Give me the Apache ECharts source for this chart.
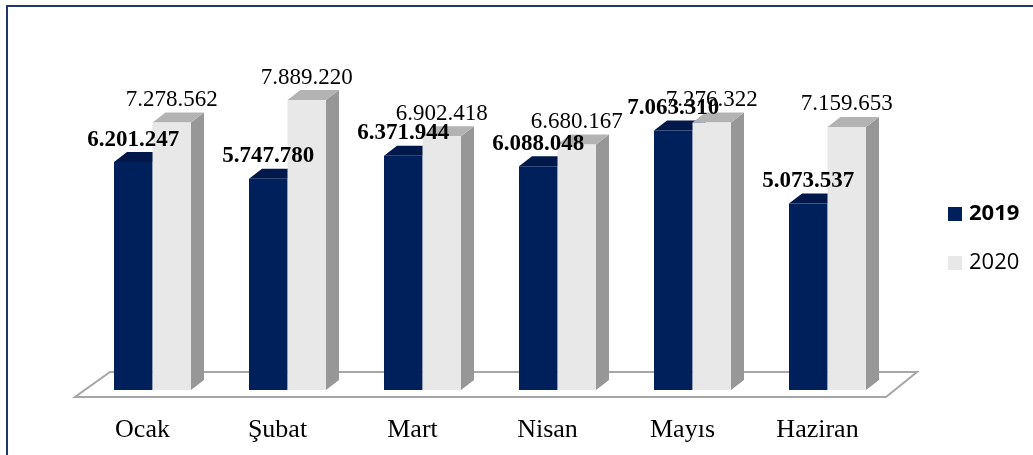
<!DOCTYPE html>
<html><head><meta charset="utf-8">
<script src="https://cdn.jsdelivr.net/npm/echarts@6/dist/echarts.min.js"></script>
<style>html,body{margin:0;padding:0;background:#fff}#c{width:1033px;height:455px}</style>
</head><body><div id="c"></div>
<script>
const categories = ['Ocak', 'Şubat', 'Mart', 'Nisan', 'Mayıs', 'Haziran'];
const seriesNames = ['2019', '2020'];
const values2019 = [6201247, 5747780, 6371944, 6088048, 7063310, 5073537];
const values2020 = [7278562, 7889220, 6902418, 6680167, 7276322, 7159653];

const BAR_W = 38.5, DX = 13, DY = -10;
const styles = [
  {front: '#00205b', top: '#00184a', side: '#001640', bold: true},
  {front: '#e8e8e8', top: '#b3b3b3', side: '#979797', bold: false}
];
function fmt(v) { return String(v).replace(/\B(?=(\d{3})+(?!\d))/g, '.'); }

function barX(si, cx) { return si === 0 ? cx - BAR_W : cx; }

function makeRender(si) {
  const st = styles[si];
  return function (params, api) {
    const p = api.coord([api.value(0), api.value(1)]);
    const base = api.coord([api.value(0), 0]);
    const x0 = barX(si, p[0]);
    const x1 = x0 + BAR_W;
    const yt = p[1], yb = base[1];
    return {
      type: 'group',
      children: [
        {type: 'polygon', shape: {points: [[x1, yb], [x1 + DX, yb + DY], [x1 + DX, yt + DY], [x1, yt]]}, style: {fill: st.side}},
        {type: 'polygon', shape: {points: [[x0, yt], [x1, yt], [x1 + DX, yt + DY], [x0 + DX, yt + DY]]}, style: {fill: st.top}},
        {type: 'rect', shape: {x: x0, y: yt, width: BAR_W, height: yb - yt}, style: {fill: st.front}}
      ]
    };
  };
}

function makeLabelRender(si) {
  const st = styles[si];
  return function (params, api) {
    const p = api.coord([api.value(0), api.value(1)]);
    const x0 = barX(si, p[0]);
    return {
      type: 'text', style: {
        text: fmt(api.value(1)), x: x0 + BAR_W / 2, y: p[1] - 11,
        align: 'center', verticalAlign: 'bottom',
        font: (st.bold ? 'bold ' : '') + '23px "Liberation Serif"', fill: '#000'
      }
    };
  };
}

function floorRender(params, api) {
  const cs = params.coordSys;
  const x0 = cs.x, x1 = cs.x + cs.width, y0 = cs.y + cs.height;
  return {
    type: 'polygon',
    shape: {points: [[x0 - 10, y0 + 7], [x1 - 9, y0 + 7], [x1 + 22, y0 - 18], [x0 + 25, y0 - 18]]},
    style: {fill: '#fff', stroke: '#a6a6a6', lineWidth: 2}
  };
}

const d2019 = values2019.map((v, i) => [i, v]);
const d2020 = values2020.map((v, i) => [i, v]);

const chart = echarts.init(document.getElementById('c'));
chart.setOption({
  animation: false,
  backgroundColor: '#fff',
  graphic: [{type: 'rect', shape: {x: 7, y: 6, width: 1100, height: 500}, style: {fill: 'none', stroke: '#1f3864', lineWidth: 2}, z: 100}],
  grid: {left: 85, right: 138, top: 96, bottom: 65},
  xAxis: {
    type: 'category', data: categories,
    axisLine: {show: false}, axisTick: {show: false},
    axisLabel: {margin: 27, padding: [0, 20, 0, 0], fontFamily: 'Liberation Serif', fontSize: 26, color: '#000'}
  },
  yAxis: {type: 'value', min: 0, max: 8000000, show: false, splitLine: {show: false}},
  legend: {
    data: seriesNames, orient: 'vertical', left: 943, top: 198,
    itemWidth: 14, itemHeight: 14, itemGap: 27, icon: 'rect',
    formatter: n => n === '2019' ? '{b|' + n + '}' : '{n|' + n + '}',
    textStyle: {
      color: '#000', fontFamily: 'Open Sans', fontSize: 22, lineHeight: 22,
      rich: {b: {fontWeight: 'bold', fontSize: 22, fontFamily: 'Open Sans', padding: [0, 0, 0, 2]},
             n: {fontWeight: 'normal', fontSize: 22, fontFamily: 'Open Sans', padding: [0, 0, 0, 2]}}
    }
  },
  series: [
    {type: 'custom', name: 'floor', silent: true, z: 1, renderItem: floorRender, data: [[0, 0]]},
    {type: 'custom', name: seriesNames[0], z: 2, renderItem: makeRender(0), itemStyle: {color: styles[0].front}, data: d2019},
    {type: 'custom', name: seriesNames[1], z: 3, renderItem: makeRender(1), itemStyle: {color: styles[1].front}, data: d2020},
    {type: 'custom', name: seriesNames[1], z: 4, silent: true, renderItem: makeLabelRender(1), itemStyle: {color: styles[1].front}, data: d2020},
    {type: 'custom', name: seriesNames[0], z: 5, silent: true, renderItem: makeLabelRender(0), itemStyle: {color: styles[0].front}, data: d2019}
  ]
});
</script></body></html>
